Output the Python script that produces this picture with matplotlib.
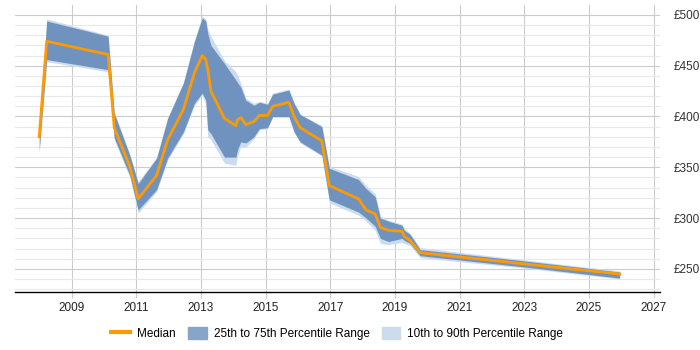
import matplotlib.pyplot as plt
from matplotlib.patches import Patch
from matplotlib.lines import Line2D
from matplotlib.ticker import MultipleLocator, FuncFormatter

# Data
years = [2008.00, 2008.23, 2010.13, 2010.32, 2010.80, 2011.06, 2011.63, 2011.97,
         2012.46, 2012.80, 2013.04, 2013.15, 2013.21, 2013.31, 2013.73, 2014.08,
         2014.14, 2014.23, 2014.39, 2014.64, 2014.81, 2015.06, 2015.22, 2015.72,
         2015.88, 2016.07, 2016.74, 2016.97, 2017.87, 2018.11, 2018.39, 2018.55,
         2018.80, 2019.22, 2019.29, 2019.47, 2019.78, 2022.98, 2025.95]
median = [380, 474, 461, 389, 351, 319, 342, 377,
          407, 443, 460, 456, 447, 425, 398, 391,
          397, 399, 392, 395, 401, 401, 410, 414,
          400, 389, 376, 332, 319, 308, 304, 291,
          288, 287, 282, 278, 266, 255, 245]
p25 = [367, 456, 446, 379, 342, 308, 328, 359,
       385, 413, 423, 416, 387, 383, 360, 360,
       368, 375, 374, 380, 388, 389, 400, 400,
       385, 375, 362, 318, 306, 300, 292, 280,
       277, 280, 278, 275, 263, 252, 241]
p75 = [382, 494, 479, 403, 362, 334, 359, 398,
       433, 474, 497, 494, 482, 470, 452, 436,
       433, 429, 416, 411, 414, 412, 422, 426,
       413, 402, 390, 349, 338, 329, 321, 300,
       297, 293, 288, 284, 269, 258, 247]
p10 = [364, 454, 444, 377, 340, 305, 326, 357,
       383, 411, 421, 412, 380, 377, 354, 352,
       362, 370, 370, 378, 387, 388, 399, 399,
       384, 374, 361, 315, 303, 297, 288, 275,
       274, 276, 275, 273, 261, 251, 240]
p90 = [383, 496, 480, 405, 363, 336, 360, 399,
       434, 475, 499, 496, 486, 479, 455, 444,
       440, 433, 418, 413, 415, 413, 423, 427,
       414, 402, 391, 351, 341, 332, 324, 302,
       298, 294, 290, 285, 271, 259, 248]

year_ticks = list(range(2009, 2028, 2))

plt.rcParams['font.family'] = ['Liberation Sans', 'DejaVu Sans']

fig = plt.figure(figsize=(7, 3.5), dpi=100)
ax = fig.add_axes([0.0214, 0.166, 0.9216, 0.82])

c_med = '#ff9a00'
c_iqr = '#6f93be'
c_dec = '#cbdcee'

ax.fill_between(years, p10, p90, color=c_dec, lw=0, zorder=2)
ax.fill_between(years, p25, p75, color=c_iqr, lw=0, zorder=3)
ax.plot(years, median, color=c_med, lw=2, zorder=4)

ax.set_xlim(2007.25, 2027.2)
ax.set_ylim(227.4, 509.8)
ax.set_xticks(year_ticks)
ax.yaxis.set_major_locator(MultipleLocator(50))
ax.yaxis.set_minor_locator(MultipleLocator(10))
ax.yaxis.set_major_formatter(FuncFormatter(lambda v, p: '£%d' % v))
ax.yaxis.tick_right()

ax.grid(which='major', color='#cccccc', lw=0.8, zorder=0)
ax.grid(which='minor', axis='y', color='#e8e8e8', lw=0.8, zorder=0)
ax.set_axisbelow(True)

for s in ['top', 'left', 'right']:
    ax.spines[s].set_visible(False)
ax.spines['bottom'].set_color('black')
ax.spines['bottom'].set_linewidth(1)

ax.tick_params(axis='x', length=4, color='#cccccc', labelsize=8.5, pad=3, labelcolor='#222222')
ax.tick_params(axis='y', which='both', length=0, labelsize=8.5, pad=10, labelcolor='#333333')

handles = [Line2D([0], [0], color=c_med, lw=3),
           Patch(color='#87a5c8'),
           Patch(color=c_dec)]
labels = ['Median', '25th to 75th Percentile Range', '10th to 90th Percentile Range']
fig.legend(handles, labels, loc='center', bbox_to_anchor=(0.482, 0.048), ncol=3,
           frameon=False, fontsize=8.5, handlelength=1.6, handleheight=1.2,
           columnspacing=1.0, handletextpad=0.6)

plt.savefig('out.png', dpi=100)
